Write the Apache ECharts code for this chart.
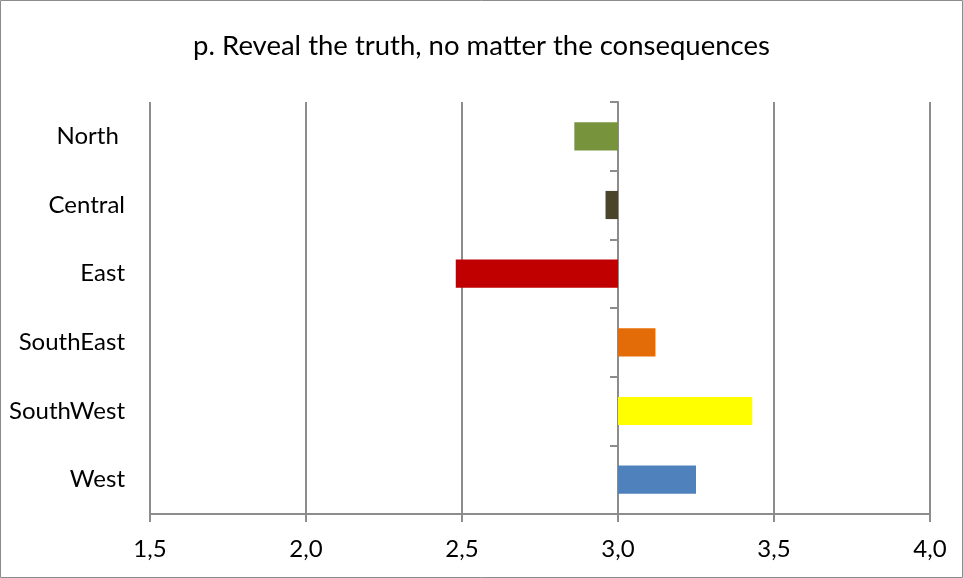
<!DOCTYPE html>
<html>
<head>
<meta charset="utf-8">
<script src="https://cdn.jsdelivr.net/npm/echarts@6/dist/echarts.min.js"></script>
<style>
html,body{margin:0;padding:0;background:#fff;}
#chart{width:963px;height:578px;}
</style>
</head>
<body>
<div id="chart"></div>
<script>
const categories = ['North ', 'Central', 'East', 'SouthEast', 'SouthWest', 'West'];
const values = [2.86, 2.96, 2.48, 3.12, 3.43, 3.25];
const barColors = ['#77933C', '#4A452A', '#C00000', '#E36C09', '#FFFF00', '#4F81BD'];
const baseline = 3.0;
const xTicks = [1.5, 2.0, 2.5, 3.0, 3.5, 4.0];

const font = 'Lato, "Open Sans", sans-serif';
const chart = echarts.init(document.getElementById('chart'), null, {renderer: 'canvas'});
const gridLeft = 150, gridRight = 33;
const plotW = 963 - gridLeft - gridRight;
const axisOffset = -plotW * (baseline - xTicks[0]) / (xTicks[xTicks.length - 1] - xTicks[0]);

chart.setOption({
  animation: false,
  title: {
    text: 'p. Reveal the truth, no matter the consequences',
    left: 'center', top: 27,
    textStyle: {fontFamily: font, fontSize: 27.5, fontWeight: 'normal', color: '#000'}
  },
  graphic: [{
    type: 'rect', shape: {x: 0.5, y: 0.5, width: 962, height: 577},
    style: {fill: 'none', stroke: '#8c8c8c', lineWidth: 1}, silent: true, z: -1
  }],
  grid: {left: gridLeft, right: gridRight, top: 102, bottom: 64, containLabel: false},
  xAxis: {
    type: 'value', min: 1.5, max: 4.0, interval: 0.5,
    axisLine: {show: true, onZero: false, lineStyle: {color: '#8c8c8c', width: 2}},
    axisTick: {show: true, length: 8, lineStyle: {color: '#8c8c8c', width: 2}},
    axisLabel: {fontFamily: font, fontSize: 24, color: '#000', margin: 23,
      formatter: v => v.toFixed(1).replace('.', ',')},
    splitLine: {show: true, lineStyle: {color: '#8c8c8c', width: 2}}
  },
  yAxis: [{
    type: 'category', data: categories, inverse: true,
    axisLine: {show: false}, axisTick: {show: false},
    axisLabel: {fontFamily: font, fontSize: 24, color: '#000', margin: 25}
  }, {
    type: 'category', data: categories, inverse: true, position: 'left', offset: axisOffset,
    axisLine: {show: true, lineStyle: {color: '#8c8c8c', width: 2}},
    axisTick: {show: true, length: 8, lineStyle: {color: '#8c8c8c', width: 2}},
    axisLabel: {show: false}
  }],
  series: [{
    type: 'custom',
    data: values.map((v, i) => [i, v]),
    encode: {x: 1, y: 0},
    z: 3,
    renderItem: function (params, api) {
      const idx = api.value(0);
      const v = api.value(1);
      const p0 = api.coord([baseline, idx]);
      const p1 = api.coord([v, idx]);
      const band = api.size([0, 1])[1];
      const h = band * 0.41;
      const x = Math.min(p0[0], p1[0]);
      const w = Math.abs(p1[0] - p0[0]);
      return {
        type: 'rect',
        shape: {x: x, y: p0[1] - h / 2, width: w, height: h},
        style: {fill: barColors[idx]}
      };
    }
  }]
});
</script>
</body>
</html>
